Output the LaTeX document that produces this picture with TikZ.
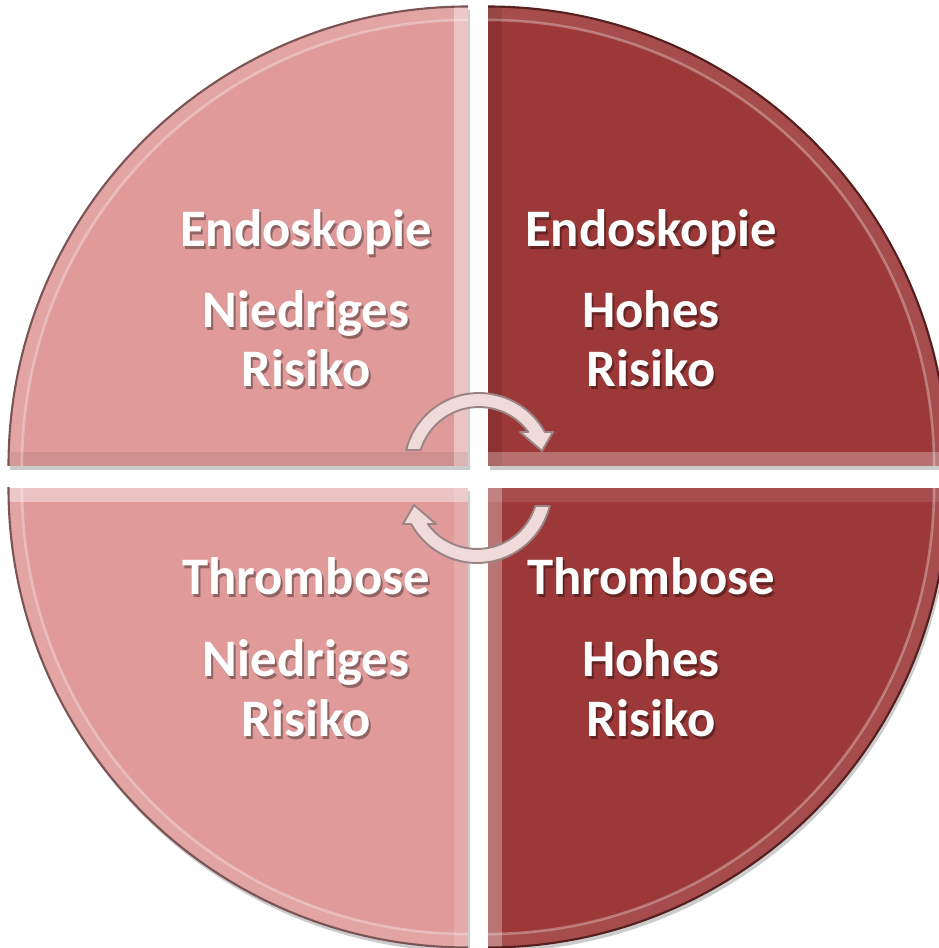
\documentclass[tikz,border=0pt]{standalone}
\usepackage{fontspec}
\setmainfont{Carlito}
\definecolor{lpink}{HTML}{E09A9A}
\definecolor{dred}{HTML}{9C3838}
\definecolor{arrfill}{HTML}{F0DADA}
\definecolor{arredge}{HTML}{9A8585}
\newcommand\myquad[8]{%
  \begin{scope}
    \clip (#1,#2) rectangle ++({#3*470},{#4*470});
    \clip (#1,#2) circle[radius=460];
    \fill[#5] (#1,#2) rectangle ++({#3*470},{#4*470});
    \fill[#6] (#1,#2) rectangle ++({#3*14},{#4*470});
    \fill[#7] (#1,#2) rectangle ++({#3*470},{#4*14});
    \fill[white, opacity=0.10, even odd rule] (#1,#2) circle[radius=460] (#1,#2) circle[radius=446];
    \draw[white, opacity=0.3, line width=1.5] (#1,#2) circle[radius=446];
  \end{scope}
  \begin{scope}
    \clip (#1,#2) rectangle ++({#3*470},{#4*470});
    \draw[#8, line width=1.2] (#1,#2) circle[radius=459.5];
  \end{scope}}
\newcommand\myshadow[4]{%
  \begin{scope}[shift={(2,-4)}]
    \clip (#1,#2) rectangle ++({#3*470},{#4*470});
    \fill[black, opacity=0.2] (#1,#2) circle[radius=460];
  \end{scope}}
\newcommand\arrowshape{%
  (-72.8,18) arc[start angle=166.1, end angle=28.7, radius=75]
  -- (74,36) -- (63,17) -- (41,36) -- (49.2,36)
  arc[start angle=36.2, end angle=162.8, radius=61] -- cycle}
\begin{document}
\begin{tikzpicture}[x=0.02cm,y=0.02cm,
  lbl/.style={font=\bfseries\fontsize{30}{31}\selectfont, text=white, inner sep=0pt, anchor=base},
  shd/.style={lbl, text=black, opacity=0.35},
  arrowsty/.style={fill=arrfill, draw=arredge, line width=1.1, line join=round}]
\useasboundingbox (0,0) rectangle (938,948);
% shadows
\myshadow{468}{482}{-1}{1}
\myshadow{488}{482}{1}{1}
\myshadow{468}{460}{-1}{-1}
\myshadow{488}{460}{1}{-1}
% quadrants
\myquad{468}{482}{-1}{1}{lpink}{white,opacity=0.4}{black,opacity=0.07}{black!45!lpink}
\myquad{488}{482}{1}{1}{dred}{black,opacity=0.10}{white,opacity=0.28}{black!45!dred}
\myquad{468}{460}{-1}{-1}{lpink}{white,opacity=0.15}{white,opacity=0.4}{black!45!lpink}
\myquad{488}{460}{1}{-1}{dred}{white,opacity=0.3}{white,opacity=0.1}{black!45!dred}
% circular arrows
\begin{scope}[shift={(479,480)}]
  \path[arrowsty] \arrowshape;
\end{scope}
\begin{scope}[shift={(477,460)}, rotate=180]
  \path[arrowsty] \arrowshape;
\end{scope}
% texts
\foreach \n/\x/\y/\t in {a/306/701/Endoskopie, b/306/620/Niedriges, c/306/561/Risiko,
  d/651/701/Endoskopie, e/651/620/Hohes, f/651/561/Risiko,
  g/306/353/Thrombose, h/306/271/Niedriges, i/306/211/Risiko,
  j/651/353/Thrombose, k/651/271/Hohes, l/651/211/Risiko}{
  \node[shd] (\n s) at (\x+2,\y-2.5) {\t};
  \node[lbl] (\n) at (\x,\y) {\t};
}
\end{tikzpicture}
\end{document}
